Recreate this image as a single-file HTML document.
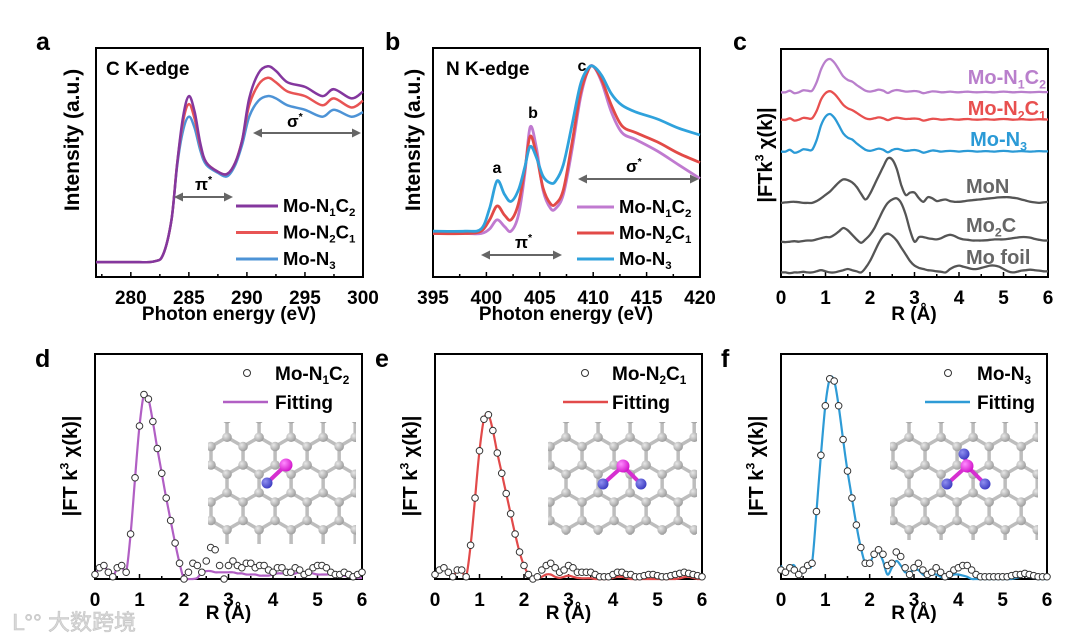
<!DOCTYPE html>
<html><head><meta charset="utf-8"><style>
html,body{margin:0;padding:0;background:#fff;}
svg{display:block;font-family:"Liberation Sans",Arial,sans-serif;font-weight:bold;}
</style></head><body>
<svg id="fig" width="1080" height="640" viewBox="0 0 1080 640"></svg>
<script>
// ---------- DATA ----------
const aEnergy = [277,280,282,282.8,283.5,284,284.5,285,285.5,286,286.5,287.5,288.3,289,289.6,290.2,291,291.8,292.5,293.5,295,296.5,297.5,299,300];
const aN1C2 = [0.065,0.065,0.068,0.1,0.25,0.5,0.7,0.79,0.72,0.58,0.5,0.46,0.45,0.5,0.6,0.78,0.89,0.92,0.9,0.85,0.83,0.79,0.82,0.78,0.81];
const aN2C1 = [0.065,0.065,0.068,0.1,0.25,0.5,0.68,0.755,0.69,0.57,0.5,0.46,0.45,0.5,0.6,0.75,0.84,0.87,0.85,0.81,0.79,0.75,0.78,0.74,0.77];
const aN3 = [0.065,0.065,0.068,0.1,0.25,0.49,0.64,0.70,0.65,0.55,0.49,0.455,0.44,0.49,0.58,0.70,0.77,0.79,0.78,0.75,0.73,0.70,0.73,0.70,0.72];
const aTicks = [280,285,290,295,300];

const bEnergy = [395,398,399.5,400.3,401,401.7,402.3,403,403.6,404.1,404.7,405.3,406,406.5,407.2,408,408.8,409.5,410,410.8,411.7,412.7,414,416,418,420];
const bN1C2 = [0.19,0.19,0.19,0.21,0.25,0.22,0.2,0.27,0.45,0.655,0.56,0.38,0.30,0.30,0.36,0.55,0.78,0.9,0.92,0.85,0.72,0.63,0.6,0.55,0.49,0.43];
const bN2C1 = [0.19,0.19,0.2,0.25,0.31,0.27,0.25,0.32,0.47,0.615,0.53,0.39,0.32,0.32,0.38,0.58,0.8,0.9,0.92,0.86,0.75,0.66,0.63,0.59,0.54,0.50];
const bN3 = [0.2,0.2,0.21,0.3,0.42,0.36,0.33,0.38,0.48,0.57,0.52,0.44,0.41,0.42,0.49,0.66,0.84,0.91,0.92,0.88,0.80,0.75,0.72,0.69,0.65,0.62];
const bTicks = [395,400,405,410,415,420];

const rTicks = [0,1,2,3,4,5,6];
const cOffsets = [0.81,0.69,0.55,0.325,0.155,0.02];
const cLabels = ["Mo-N1C2","Mo-N2C1","Mo-N3","MoN","Mo2C","Mo foil"];
const cN1C2 = [0,0,.007,-.004,0,.009,.007,.007,.044,.10,.136,.146,.13,.10,.07,.054,.047,.032,.019,.007,.003,.007,.012,.007,-.003,.006,.01,.007,.003,.004,.006,.003,-.004,0,.004,.003,0,.001,.003,.001,0,.002,.003,.001,0,.001,.002,.001,0,.002,.003,.002,0,.001,.002,.001,0,.001,.002,.001,.001];
const cN2C1 = [0,0,.006,-.004,0,.008,.006,.006,.038,.088,.116,.125,.113,.09,.065,.05,.042,.03,.017,.006,.002,.006,.01,.006,-.002,.005,.009,.006,.003,.004,.005,.003,-.004,0,.004,.003,0,.001,.003,.001,0,.002,.003,.001,0,.001,.002,.001,0,.002,.003,.002,0,.001,.002,.001,0,.001,.002,.001,.001];
const cN3 = [0,0,.008,-.005,0,.01,.008,.008,.05,.115,.153,.165,.148,.115,.08,.061,.053,.036,.021,.008,.003,.008,.013,.008,-.003,.007,.012,.008,.003,.005,.007,.003,-.005,0,.005,.003,0,.002,.003,.002,0,.002,.003,.002,0,.001,.002,.001,0,.002,.003,.002,0,.001,.002,.001,0,.001,.002,.001,.001];
const cMoN = [0,.002,.004,.005,.003,0,0,0,.008,.02,.035,.05,.07,.09,.103,.1,.09,.07,.04,.015,.04,.08,.12,.16,.195,.19,.15,.08,.035,.045,.045,.02,.005,.025,.02,.008,.012,.015,.008,.005,.005,.007,.01,.012,.014,.016,.018,.02,.022,.024,.025,.025,.023,.02,.015,.01,.005,.002,0,.002,.005];
const cMo2C = [0,-.002,0,.002,0,.003,.005,.005,.01,.015,.02,.02,.03,.045,.06,.05,.03,.01,-.005,.01,.03,.06,.1,.14,.17,.185,.19,.17,.12,.05,0,.02,.02,.015,.012,.01,.015,.025,.03,.025,.015,.01,.008,.005,.005,.005,.006,.008,.01,.01,.01,.012,.015,.018,.02,.02,.018,.012,.008,.005,.005];
const cMoFoil = [0,0,-.003,0,0,.003,0,0,.005,.01,.005,0,0,.005,.01,.015,.01,.005,0,.02,.05,.09,.13,.16,.17,.16,.14,.11,.08,.05,.03,.02,.015,.01,.008,.005,.003,0,.015,.025,.03,.025,.02,.015,.015,.02,.025,.03,.03,.025,.015,.005,0,.003,.008,.01,.012,.01,.008,.005,.005];

const dData = [.02,.05,.06,.03,.01,.05,.06,.03,.2,.45,.68,.82,.8,.7,.58,.47,.36,.26,.16,.07,0,.03,.07,.06,.03,.08,.14,.13,.06,0,.06,.08,.06,.05,.07,.07,.05,.06,.06,.04,.03,.05,.05,.03,.03,.05,.04,.02,.03,.05,.06,.06,.05,.03,.02,.02,.03,.02,.01,.02,.03];
const dFit = [.02,.05,.06,.03,.01,.05,.06,.03,.2,.45,.68,.82,.8,.7,.58,.47,.36,.26,.16,.07,0,0,0,.005,.03,.035,.035,.03,.03,.03,.03,.03,.025,.025,.02,.02,.02,.015,.015,.015,.02,.025,.025,.025,.02,.025,.03,.03,.03,.025,.02,.02,.02,.02,.015,.015,.015,.01,.01,.005,.005];
const eData = [.02,.04,.05,.03,.01,.04,.04,.01,.15,.36,.57,.71,.73,.66,.56,.47,.38,.29,.2,.12,.06,.02,0,.01,.04,.06,.07,.05,.03,.04,.06,.05,.03,.03,.03,.03,.02,.01,.01,.01,.02,.03,.03,.02,.02,.01,.01,.015,.02,.02,.015,.01,.01,.015,.02,.025,.03,.025,.02,.015,.01];
const eFit = [.02,.04,.05,.03,.01,.04,.04,.01,.15,.36,.57,.71,.73,.66,.56,.47,.38,.29,.2,.12,.06,.02,0,0,.01,.02,.02,.01,.005,.01,.015,.01,.005,.003,.003,.003,0,0,0,0,.005,.01,.01,.005,0,0,0,0,0,0,0,0,0,0,0,.003,.008,.01,.005,0,0];
const fData = [.04,.03,.05,.04,.02,.04,.06,.07,.3,.55,.77,.89,.88,.77,.62,.48,.36,.24,.14,.07,.07,.11,.13,.11,.06,.07,.12,.1,.05,.02,.05,.07,.04,.02,.03,.05,.03,.01,.02,.04,.05,.06,.06,.04,.02,.01,.01,.01,.01,.01,.01,.01,.015,.02,.02,.025,.02,.015,.01,.01,.01];
const fFit = [.06,.02,.05,.06,.01,.04,.06,.07,.3,.55,.77,.89,.88,.77,.62,.48,.36,.24,.14,.07,.07,.11,.12,.08,.02,.05,.08,.06,.03,.03,.04,.04,.02,.01,.02,.02,.01,0,.01,.02,.02,.015,.01,0,0,0,0,0,0,0,0,0,0,.005,.01,.015,.01,.005,0,0,0];

// ---------- HELPERS ----------
const NS = "http://www.w3.org/2000/svg";
const svg = document.getElementById('fig');
function el(tag, attrs, parent){
  const e = document.createElementNS(NS, tag);
  for (const k in attrs) e.setAttribute(k, attrs[k]);
  (parent||svg).appendChild(e);
  return e;
}
function smoothPath(pts){
  let d = "M"+pts[0][0].toFixed(1)+","+pts[0][1].toFixed(1);
  for (let i=0;i<pts.length-1;i++){
    const p0=pts[Math.max(0,i-1)], p1=pts[i], p2=pts[i+1], p3=pts[Math.min(pts.length-1,i+2)];
    const c1=[p1[0]+(p2[0]-p0[0])/6, p1[1]+(p2[1]-p0[1])/6];
    const c2=[p2[0]-(p3[0]-p1[0])/6, p2[1]-(p3[1]-p1[1])/6];
    d += " C"+c1[0].toFixed(1)+","+c1[1].toFixed(1)+" "+c2[0].toFixed(1)+","+c2[1].toFixed(1)+" "+p2[0].toFixed(1)+","+p2[1].toFixed(1);
  }
  return d;
}
function makeAxes(L,R,T,B,xmin,xmax){
  return {L,R,T,B,
    sx:v=>L+(v-xmin)/(xmax-xmin)*(R-L),
    sy:v=>B-v*(B-T)};
}
function text(x,y,str,size,attrs,parent){
  const t = el('text', Object.assign({x:x,y:y,'font-size':size,fill:'#000'},attrs||{}), parent);
  t.textContent = str;
  return t;
}
function subLabel(x,y,parts,size,fill,anchor,name){
  const t = el('text',{x:x,y:y,'font-size':size,fill:fill,'text-anchor':anchor||'start'});
  
  
  parts.forEach(p=>{
    const s = el('tspan',{},t);
    if (p[1]==='sub'){ s.setAttribute('font-size', size*0.62); s.setAttribute('dy', size*0.22); }
    else if (p[1]==='sup'){ s.setAttribute('font-size', size*0.62); s.setAttribute('dy', -size*0.42); }
    else if (p[1]==='back'){ s.setAttribute('dy', -size*0.22); }
    else if (p[1]==='backsup'){ s.setAttribute('dy', size*0.42); }
    s.textContent = p[0];
  });
  return t;
}
function frame(ax, ticks, minorStep, xmin, xmax, name){
  const g = el('g',{});
  
  
  const r = el('rect',{x:ax.L,y:ax.T,width:ax.R-ax.L,height:ax.B-ax.T,fill:'none',stroke:'#000','stroke-width':2},g);
  
  
  for (let v=xmin; v<=xmax+1e-9; v+=minorStep){
    const x = ax.sx(v);
    const major = ticks.some(t=>Math.abs(t-v)<1e-6);
    el('line',{x1:x,x2:x,y1:ax.B,y2:ax.B-(major?5:3),stroke:'#000','stroke-width':1.5},g);
  }
  ticks.forEach(t=>{
    const lab = text(ax.sx(t), ax.B+27, String(t), 19, {'text-anchor':'middle'}, g);
    
    
  });
  return g;
}
function line(ax, xs, ys, color, w, name, off){
  const pts = xs.map((x,i)=>[ax.sx(x), ax.sy(ys[i]+(off||0))]);
  const p = el('path',{d:smoothPath(pts),fill:'none',stroke:color,'stroke-width':w,'stroke-linejoin':'round'});
  
  
  return p;
}
function rGrid(arr){ return arr.map((_,i)=>i*6/(arr.length-1)); }
function arrow(x1,x2,y,name){
  const g = el('g',{});
  
  
  el('line',{x1:x1+6,x2:x2-6,y1:y,y2:y,stroke:'#666','stroke-width':2},g);
  el('path',{d:`M${x1},${y} l9,-4.5 l0,9 z`,fill:'#666'},g);
  el('path',{d:`M${x2},${y} l-9,-4.5 l0,9 z`,fill:'#666'},g);
}
function yTitle(x,y,parts,size,name){
  const t = subLabel(0,0,parts,size,'#000','middle',name);
  t.setAttribute('transform',`translate(${x},${y}) rotate(-90)`);
}
function panelLetter(x,y,s){
  const t = text(x,y,s,25,{});
  
  
}

// ---------- PANEL A ----------
panelLetter(36,50,'a');
const axA = makeAxes(96,363,48,277,277,300);
frame(axA,aTicks,2.5,277.5,300,'panel-a');
line(axA,aEnergy,aN3,'#4d93d6',2.5,'a-line-mo-n3');
line(axA,aEnergy,aN2C1,'#e85454',2.5,'a-line-mo-n2c1');
line(axA,aEnergy,aN1C2,'#84379e',2.5,'a-line-mo-n1c2');
(function(){const t=text(106,75,'C K-edge',19,{});})();
arrow(174,233,197,'a-pi-arrow');
subLabel(195,190,[['π'],['*','sup']],17,'#000','start','a-pi-label');
arrow(253,361,133,'a-sigma-arrow');
subLabel(287,127,[['σ'],['*','sup']],17,'#000','start','a-sigma-label');
[['#84379e',[['Mo-N'],['1','sub'],['C','back'],['2','sub']],'a-legend-mo-n1c2'],
 ['#e85454',[['Mo-N'],['2','sub'],['C','back'],['1','sub']],'a-legend-mo-n2c1'],
 ['#4d93d6',[['Mo-N'],['3','sub']],'a-legend-mo-n3']].forEach((e,i)=>{
  const y=206+i*26.5;
  const l=el('line',{x1:236,x2:278,y1:y,y2:y,stroke:e[0],'stroke-width':3});
  
  
  subLabel(283,y+6,e[1],18.5,'#000','start',e[2]);
});
yTitle(79,140,[['Intensity (a.u.)']],21,'a-y-axis-title');
(function(){const t=text(229,320,'Photon energy (eV)',19,{'text-anchor':'middle'});})();

// ---------- PANEL B ----------
panelLetter(385,50,'b');
const axB = makeAxes(433,700,48,277,395,420);
frame(axB,bTicks,2.5,395,420,'panel-b');
line(axB,bEnergy,bN1C2,'#c07ad0',2.8,'b-line-mo-n1c2');
line(axB,bEnergy,bN2C1,'#e24a47',2.8,'b-line-mo-n2c1');
line(axB,bEnergy,bN3,'#2fa2dc',2.8,'b-line-mo-n3');
(function(){const t=text(446,75,'N K-edge',19,{});})();
[['a',497,173],['b',533,118],['c',582,71]].forEach(p=>{
  const t=text(p[1],p[2],p[0],16,{'text-anchor':'middle'});
  
  
});
arrow(481,562,255,'b-pi-arrow');
subLabel(515,248,[['π'],['*','sup']],17,'#000','start','b-pi-label');
arrow(578,699,179,'b-sigma-arrow');
subLabel(626,172,[['σ'],['*','sup']],17,'#000','start','b-sigma-label');
[['#c07ad0',[['Mo-N'],['1','sub'],['C','back'],['2','sub']],'b-legend-mo-n1c2'],
 ['#e24a47',[['Mo-N'],['2','sub'],['C','back'],['1','sub']],'b-legend-mo-n2c1'],
 ['#2fa2dc',[['Mo-N'],['3','sub']],'b-legend-mo-n3']].forEach((e,i)=>{
  const y=207+i*26;
  const l=el('line',{x1:577,x2:614,y1:y,y2:y,stroke:e[0],'stroke-width':3});
  
  
  subLabel(619,y+6,e[1],18.5,'#000','start',e[2]);
});
yTitle(420,140,[['Intensity (a.u.)']],21,'b-y-axis-title');
(function(){const t=text(566,320,'Photon energy (eV)',19,{'text-anchor':'middle'});})();

// ---------- PANEL C ----------
panelLetter(733,50,'c');
const axC = makeAxes(781,1048,49,277,0,6);
frame(axC,rTicks,0.5,0,6,'panel-c');
const cSeries=[cN1C2,cN2C1,cN3,cMoN,cMo2C,cMoFoil];
const cColors=['#b97fcc','#e8504f','#2b9ad6','#555','#555','#555'];
cSeries.forEach((s,i)=>line(axC,rGrid(s),s,cColors[i],2.3,'c-line-'+cLabels[i].toLowerCase().replace(/ /g,'-'),cOffsets[i]));
subLabel(1046,84,[['Mo-N'],['1','sub'],['C','back'],['2','sub']],20,'#b97fcc','end','c-label-mo-n1c2');
subLabel(1046,115,[['Mo-N'],['2','sub'],['C','back'],['1','sub']],20,'#e8504f','end','c-label-mo-n2c1');
subLabel(1027,146,[['Mo-N'],['3','sub']],20,'#2b9ad6','end','c-label-mo-n3');
subLabel(966,193,[['MoN']],20,'#666','start','c-label-mon');
subLabel(966,232,[['Mo'],['2','sub'],['C','back']],20,'#666','start','c-label-mo2c');
subLabel(966,264,[['Mo foil']],20,'#666','start','c-label-mo-foil');
yTitle(772,155,[['|FTk'],['3','sup'],[' χ(k)|','backsup']],20,'c-y-axis-title');
(function(){const t=text(914,320,'R (Å)',19,{'text-anchor':'middle'});})();

// ---------- LATTICE INSET ----------
function lattice(x0,y0,w,h,b,dx,dy,mo,ns,name){
  const g=el('g',{});
  
  
  const cid='clip-'+name;
  const cp=el('clipPath',{id:cid},g);
  el('rect',{x:x0,y:y0,width:w,height:h},cp);
  const inner=el('g',{'clip-path':`url(#${cid})`},g);
  const hw=Math.sqrt(3)*b;
  const verts={}, edges={};
  for(let r=-1;r<h/(1.5*b)+2;r++){
    for(let c=-1;c<w/hw+2;c++){
      const cx=x0+dx+c*hw+(Math.abs(r)%2?hw/2:0), cy=y0+dy+r*1.5*b;
      const vs=[];
      for(let k=0;k<6;k++){const a=Math.PI/180*(-90+60*k);vs.push([cx+b*Math.cos(a),cy+b*Math.sin(a)]);}
      vs.forEach((v,k)=>{
        const key=Math.round(v[0]/2)+'_'+Math.round(v[1]/2);verts[key]=v;
        const u=vs[(k+1)%6];const ek=[key,Math.round(u[0]/2)+'_'+Math.round(u[1]/2)].sort().join('|');
        edges[ek]=[v,u];
      });
    }
  }
  Object.values(edges).forEach(e=>el('line',{x1:e[0][0],y1:e[0][1],x2:e[1][0],y2:e[1][1],stroke:'#bdbdbd','stroke-width':3.5},inner));
  Object.values(verts).forEach(v=>el('circle',{cx:v[0],cy:v[1],r:4.8,fill:'url(#gray-ball)'},inner));
  ns.forEach(n=>{
    el('line',{x1:mo[0],y1:mo[1],x2:n[0],y2:n[1],stroke:'#d62fd0','stroke-width':4},g);
  });
  ns.forEach(n=>el('circle',{cx:n[0],cy:n[1],r:5.5,fill:'url(#blue-ball)'},g));
  el('circle',{cx:mo[0],cy:mo[1],r:6.5,fill:'url(#mo-ball)'},g);
}
const defs=el('defs',{});
[['gray-ball','#e8e8e8','#9a9a9a'],['blue-ball','#8f8ff0','#3a3ac0'],['mo-ball','#ff8cff','#d010c8']].forEach(g=>{
  const rg=el('radialGradient',{id:g[0],cx:'0.35',cy:'0.35',r:'0.7'},defs);
  el('stop',{offset:'0','stop-color':g[1]},rg);
  el('stop',{offset:'1','stop-color':g[2]},rg);
});

// ---------- BOTTOM PANELS ----------
function fitPanel(letter,L,R,data,fit,color,legendParts,lat,lo){
  panelLetter(L-60,367,letter);
  const ax=makeAxes(L,R,354,579,0,6);
  frame(ax,rTicks,0.5,0,6,'panel-'+letter);
  lattice(lat[0],lat[1],lat[2],lat[3],18.5,lat[4],lat[5],lat[6],lat[7],letter+'-structure-inset');
  line(ax,rGrid(fit),fit,color,2.2,letter+'-fitting-line');
  const xs=rGrid(data);
  const g=el('g',{});
  
  
  data.forEach((v,i)=>{
    const c=el('circle',{cx:ax.sx(xs[i]),cy:ax.sy(v),r:3.3,fill:'#fff',stroke:'#333','stroke-width':1},g);
    
    
  });
  const c0=el('circle',{cx:L+lo[0],cy:373,r:3.5,fill:'#fff',stroke:'#333','stroke-width':1});
  
  
  subLabel(L+lo[2],380,legendParts,19,'#000','start',letter+'-legend-data');
  const l=el('line',{x1:L+lo[1],x2:L+lo[1]+45,y1:402,y2:402,stroke:color,'stroke-width':2.5});
  
  
  const ft=text(L+lo[2],409,'Fitting',19,{});
  
  
  yTitle(L-18,466,[['|FT k'],['3','sup'],[' χ(k)|','backsup']],20,letter+'-y-axis-title');
  const xt=text((L+R)/2,619,'R (Å)',19,{'text-anchor':'middle'});
  
  
}
fitPanel('d',95,362,dData,dFit,'#b15fc4',[['Mo-N'],['1','sub'],['C','back'],['2','sub']],
  [208,422,148,122,3,6,[286,465],[[267,483]]],[152,128,180]);
fitPanel('e',435,702,eData,eFit,'#e24a4a',[['Mo-N'],['2','sub'],['C','back'],['1','sub']],
  [548,422,149,113,2,6,[623,466],[[603,484],[641,484]]],[150,128,177]);
fitPanel('f',781,1047,fData,fFit,'#2e9bd6',[['Mo-N'],['3','sub']],
  [890,422,148,118,3,6,[967,466],[[947,484],[985,484],[964,454]]],[167,144,196]);

// ---------- WATERMARK ----------
(function(){
  const t=text(12,630,'ᒪ°° 大数跨境',22,{fill:'#d8d8d8',stroke:'#c4c4c4','stroke-width':0.6,'font-weight':'normal','font-family':'"Liberation Sans","Noto Sans CJK SC",sans-serif'});
  
  
})();
</script>
</body></html>
